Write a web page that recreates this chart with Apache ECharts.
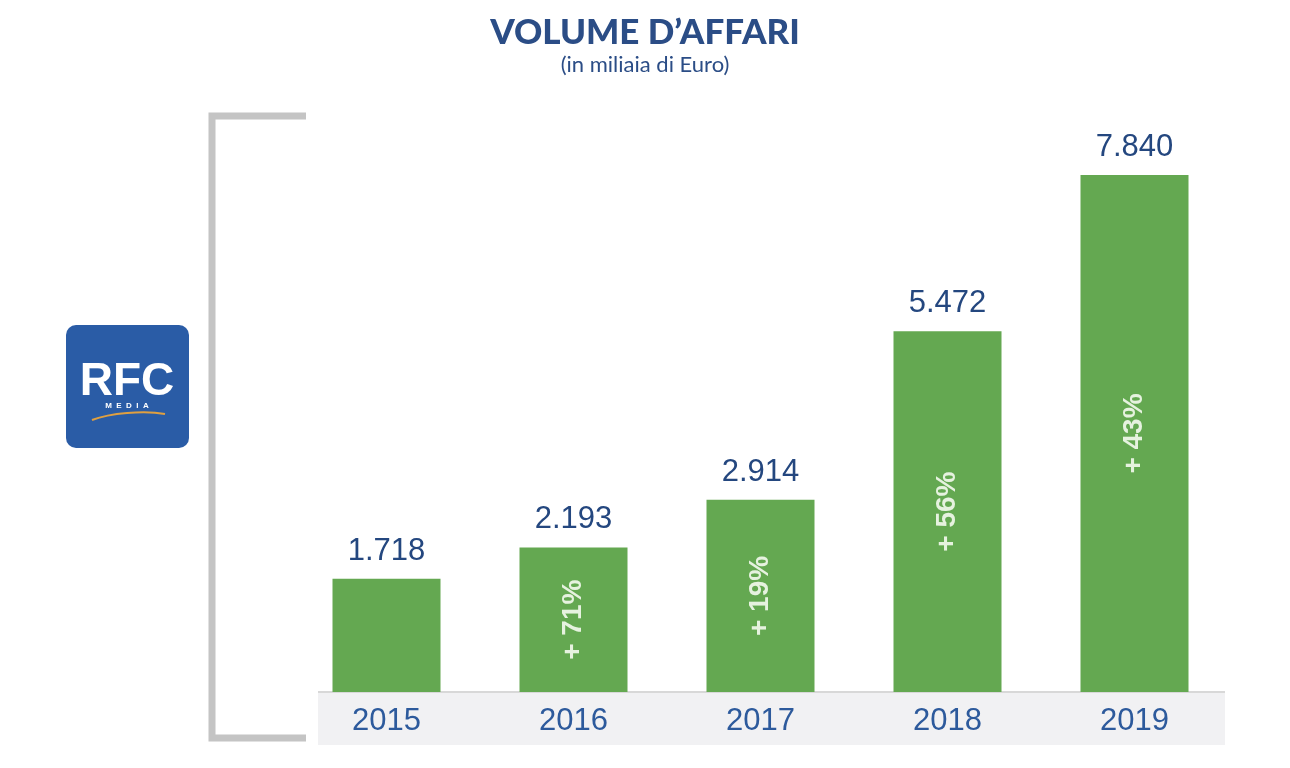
<!DOCTYPE html>
<html><head><meta charset="utf-8">
<script src="https://cdn.jsdelivr.net/npm/echarts@6/dist/echarts.min.js"></script>
<style>html,body{margin:0;padding:0;background:#fff}#c{width:1290px;height:768px}</style>
</head><body><div id="c"></div>
<script>
const years = ['2015','2016','2017','2018','2019'];
const values = [1718, 2193, 2914, 5472, 7840];
const valueLabels = ['1.718','2.193','2.914','5.472','7.840'];
const growthLabels = ['', '+ 71%', '+ 19%', '+ 56%', '+ 43%'];

const chart = echarts.init(document.getElementById('c'));
chart.setOption({
  backgroundColor: '#fff',
  title: {
    text: 'VOLUME D\u2019AFFARI', subtext: '(in miliaia di Euro)', left: 'center', top: 10,
    textStyle: {fontFamily: 'Lato', fontWeight: 900, fontSize: 35, color: '#2b4d86'},
    subtextStyle: {fontFamily: 'Lato', fontSize: 22, color: '#2b4d86'}, itemGap: 4
  },
  graphic: [
    {type: 'rect', z: 0, shape: {x: 318, y: 692, width: 907, height: 53}, style: {fill: '#f1f1f3'}},
    {type: 'line', z: 1, shape: {x1: 318, y1: 692, x2: 1225, y2: 692}, style: {stroke: '#d8d8d8', lineWidth: 2}},
    {type: 'polyline', shape: {points: [[306,116],[212,116],[212,738],[306,738]]}, style: {stroke: '#c4c4c4', lineWidth: 7, fill: null}},
    {type: 'rect', shape: {x: 66, y: 325, width: 123, height: 123, r: 10}, style: {fill: '#2a5ca6'}},
    {type: 'text', x: 127, y: 382, style: {text: 'RFC', fill: '#fff', font: 'bold 46px Liberation Sans', align: 'center', verticalAlign: 'middle'}},
    {type: 'text', x: 127, y: 406, style: {text: 'M  E  D  I  A', fill: '#fff', font: 'bold 8px Liberation Sans', align: 'center', verticalAlign: 'middle'}},
    {type: 'polyline', shape: {points: [[92,420],[127,413],[165,414]], smooth: 0.6}, style: {stroke: '#e0a040', lineWidth: 2, fill: null}}
  ],
  grid: {left: 293, right: 62, top: 164.5, bottom: 76},
  xAxis: {
    type: 'category', data: years,
    axisLine: {show: false}, axisTick: {show: false},
    axisLabel: {fontFamily: 'Liberation Sans', fontSize: 31, color: '#2d5a9c', margin: 14}
  },
  yAxis: {type: 'value', min: 0, max: 8000, show: false, splitLine: {show: false}},
  series: [
    {type: 'bar', data: values, barWidth: 108, itemStyle: {color: '#64a851'},
     label: {show: true, position: 'top', distance: 12, fontFamily: 'Liberation Sans', fontSize: 31, color: '#24477f',
       formatter: p => valueLabels[p.dataIndex]}},
    {type: 'bar', data: values, barWidth: 108, barGap: '-100%', itemStyle: {color: 'transparent'}, z: 3,
     label: {show: true, position: 'inside', rotate: 90, fontFamily: 'Liberation Sans', fontWeight: 'bold', fontSize: 28, color: '#e6f2df',
       formatter: p => growthLabels[p.dataIndex]}}
  ]
});
</script></body></html>
